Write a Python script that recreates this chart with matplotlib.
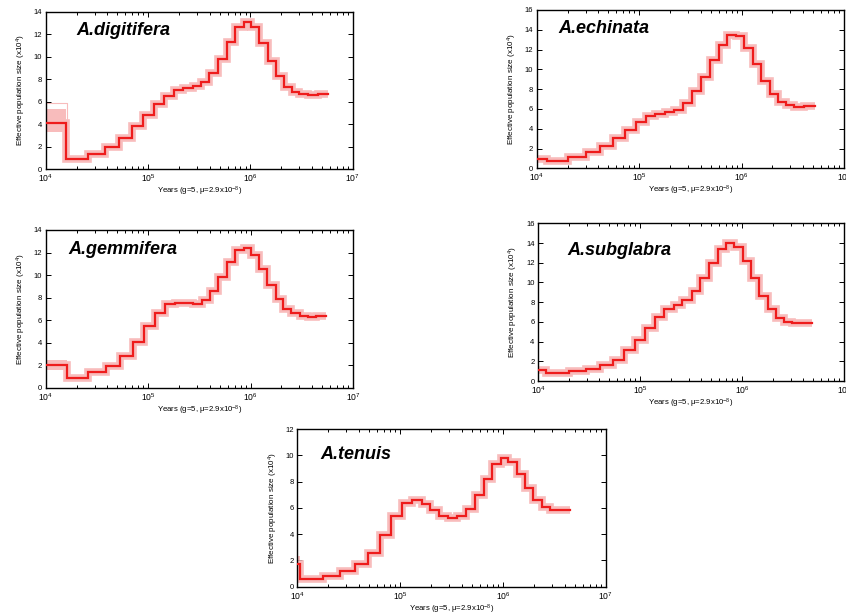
import numpy as np
import matplotlib
matplotlib.use("Agg")
import matplotlib.pyplot as plt
from matplotlib.ticker import LogLocator, NullFormatter, MultipleLocator

plt.rcParams['font.family'] = ['Liberation Sans', 'DejaVu Sans']
plt.rcParams['mathtext.fontset'] = 'custom'
plt.rcParams['mathtext.rm'] = 'Liberation Sans'
plt.rcParams['mathtext.it'] = 'Liberation Sans:italic'

# step edges as log10(years), and Ne (x10^4) for each step
digitifera_logt = [4.0, 4.195, 4.41, 4.583, 4.72, 4.847, 4.951, 5.062, 5.156, 5.25, 5.339,
                   5.436, 5.52, 5.596, 5.68, 5.769, 5.853, 5.935, 6.01, 6.085, 6.173,
                   6.248, 6.326, 6.404, 6.479, 6.567, 6.664, 6.762]
digitifera_ne = [4.1, 0.9, 1.3, 2.0, 2.8, 3.8, 4.8, 5.8, 6.5, 7.0, 7.2, 7.35, 7.7, 8.5,
                 9.8, 11.3, 12.6, 13.1, 12.6, 11.2, 9.6, 8.3, 7.3, 6.85, 6.7, 6.6, 6.65]

echinata_logt = [4.0, 4.098, 4.309, 4.478, 4.618, 4.745, 4.859, 4.966, 5.064, 5.155, 5.253,
                 5.344, 5.432, 5.52, 5.604, 5.692, 5.777, 5.861, 5.946, 6.024, 6.109,
                 6.193, 6.278, 6.353, 6.431, 6.512, 6.61, 6.717]
echinata_ne = [0.95, 0.75, 1.1, 1.6, 2.3, 3.1, 3.9, 4.7, 5.3, 5.5, 5.65, 5.9, 6.6, 7.8,
               9.2, 10.9, 12.5, 13.45, 13.35, 12.2, 10.5, 8.8, 7.5, 6.7, 6.35, 6.2, 6.3]

gemmifera_logt = [4.0, 4.205, 4.41, 4.588, 4.725, 4.848, 4.959, 5.063, 5.163, 5.261, 5.358,
                  5.44, 5.521, 5.602, 5.683, 5.768, 5.852, 5.934, 6.005, 6.083, 6.164,
                  6.246, 6.32, 6.398, 6.48, 6.561, 6.642, 6.74]
gemmifera_ne = [2.0, 0.9, 1.35, 1.95, 2.85, 4.1, 5.5, 6.6, 7.4, 7.55, 7.5, 7.45, 7.8, 8.6,
                9.8, 11.2, 12.2, 12.4, 11.8, 10.5, 9.1, 7.9, 7.0, 6.6, 6.4, 6.3, 6.35]

subglabra_logt = [4.0, 4.075, 4.301, 4.468, 4.612, 4.736, 4.847, 4.955, 5.05, 5.148, 5.24,
                  5.331, 5.416, 5.505, 5.593, 5.675, 5.76, 5.842, 5.923, 6.005, 6.087,
                  6.169, 6.25, 6.329, 6.411, 6.493, 6.584, 6.689]
subglabra_ne = [1.1, 0.8, 1.0, 1.2, 1.6, 2.15, 3.1, 4.2, 5.4, 6.5, 7.3, 7.7, 8.2, 9.1,
                10.4, 12.0, 13.4, 14.0, 13.6, 12.2, 10.4, 8.6, 7.3, 6.4, 6.0, 5.85, 5.85]

tenuis_logt = [4.0, 4.026, 4.253, 4.415, 4.561, 4.691, 4.801, 4.911, 5.015, 5.113, 5.21,
               5.291, 5.379, 5.463, 5.554, 5.644, 5.726, 5.813, 5.898, 5.979, 6.053,
               6.134, 6.215, 6.297, 6.378, 6.459, 6.55, 6.653]
tenuis_ne = [1.7, 0.55, 0.8, 1.2, 1.75, 2.6, 3.9, 5.4, 6.4, 6.6, 6.3, 5.8, 5.35, 5.2, 5.4,
             5.95, 7.0, 8.2, 9.3, 9.8, 9.5, 8.6, 7.5, 6.6, 6.1, 5.85, 5.8]

# bootstrap spread of the first (most recent) step: low, high
first_spread = {
    "A.digitifera": (3.3, 5.3),
    "A.echinata": (0.7, 1.2),
    "A.gemmifera": (1.6, 2.45),
    "A.subglabra": (0.85, 1.35),
    "A.tenuis": (1.1, 2.3),
}

panels = [
    ("A.digitifera", digitifera_logt, digitifera_ne, 14, (45.7, 11.7, 352.7, 169.0), (0.099, 0.852)),
    ("A.echinata", echinata_logt, echinata_ne, 16, (536.7, 10.0, 844.0, 168.3), (0.07, 0.855)),
    ("A.gemmifera", gemmifera_logt, gemmifera_ne, 14, (45.7, 230.0, 353.0, 387.7), (0.074, 0.846)),
    ("A.subglabra", subglabra_logt, subglabra_ne, 16, (538.0, 223.3, 844.0, 381.0), (0.095, 0.80)),
    ("A.tenuis", tenuis_logt, tenuis_ne, 12, (297.3, 429.0, 605.7, 586.7), (0.074, 0.81)),
]

W, H = 846, 615
fig = plt.figure(figsize=(W / 100, H / 100), dpi=100)

red = '#ee1c1c'
pink = '#f8bcbc'

for name, logt, ne, ymax, (x0, y0, x1, y1), (tx, ty) in panels:
    ax = fig.add_axes([x0 / W, (H - y1) / H, (x1 - x0) / W, (y1 - y0) / H])
    t = 10 ** np.array(logt)
    ne = np.array(ne)
    tt = np.repeat(t, 2)[1:-1]
    yy = np.repeat(ne, 2)

    lo, hi = first_spread[name]
    ax.fill_between([t[0], t[1]], lo, hi, color=pink, lw=0, zorder=1)
    if name == "A.digitifera":
        ax.plot([t[0], t[1] * 1.03, t[1] * 1.03], [5.85, 5.85, 3.0], color=pink, lw=0.8, zorder=1)
    ax.plot(tt, yy, color=pink, lw=5.5, solid_joinstyle='miter', solid_capstyle='butt', zorder=2)
    ax.plot(tt, yy, color=red, lw=1.6, solid_joinstyle='miter', zorder=3)

    ax.set_xscale('log')
    ax.set_xlim(1e4, 1e7)
    ax.set_ylim(0, ymax)
    ax.yaxis.set_major_locator(MultipleLocator(2))
    ax.xaxis.set_major_locator(LogLocator(base=10, numticks=10))
    ax.xaxis.set_minor_locator(LogLocator(base=10, subs=np.arange(2, 10), numticks=10))
    ax.xaxis.set_minor_formatter(NullFormatter())
    ax.tick_params(which='both', direction='in', top=True, right=True, width=0.7)
    ax.tick_params(axis='y', labelsize=5.5, pad=2.5)
    ax.tick_params(axis='x', labelsize=6.2, pad=2.5)
    ax.tick_params(which='major', length=3.5)
    ax.tick_params(which='minor', length=2)
    for sp in ax.spines.values():
        sp.set_linewidth(1.0)

    ax.set_ylabel('Effective population size (x10$^4$)', fontsize=5.8, labelpad=4)
    ax.set_xlabel('Years (g=5, \u03bc=2.9x10$^{-8}$)', fontsize=5.6, labelpad=0.5)
    ax.text(tx, ty, name, transform=ax.transAxes, fontsize=13, fontweight='bold',
            fontstyle='italic', ha='left', va='baseline')

fig.savefig('out.png', dpi=100)
